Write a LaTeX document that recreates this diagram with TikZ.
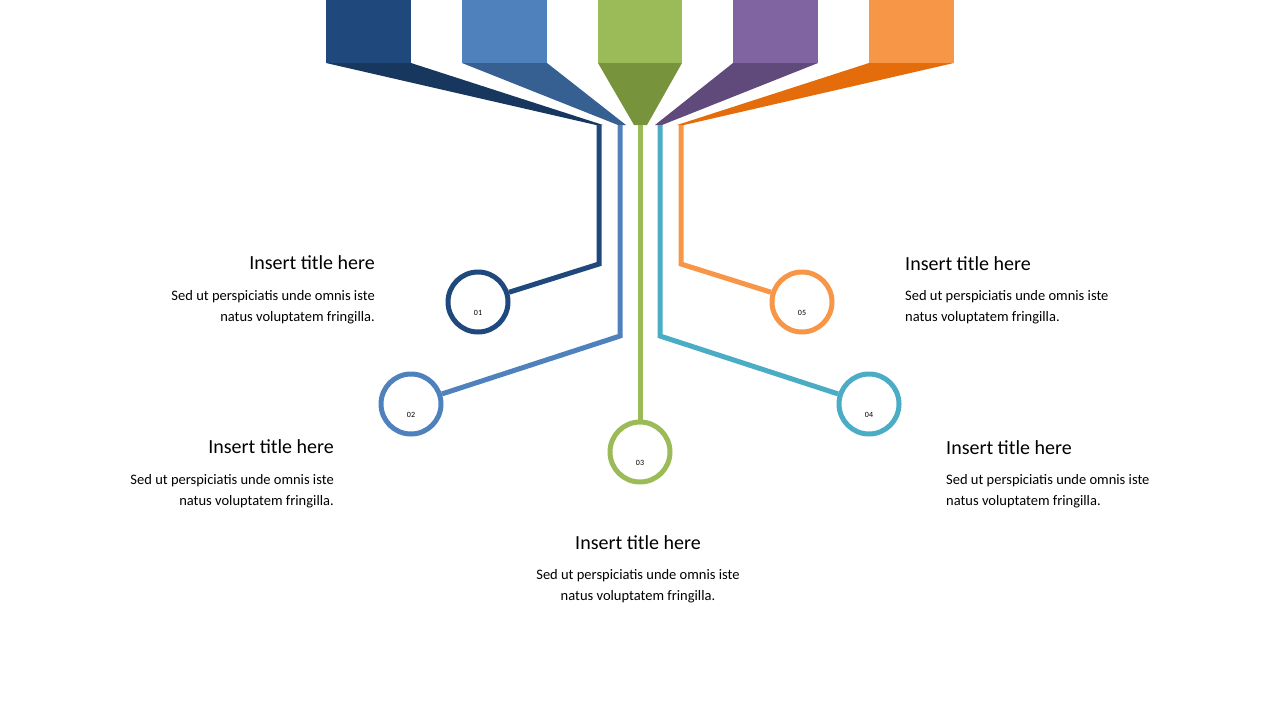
\documentclass[tikz,border=0pt]{standalone}
\usepackage{fontspec}
\setmainfont{Carlito}
\begin{document}
\definecolor{dblue}{HTML}{1F497D}\definecolor{dblueS}{HTML}{17375E}
\definecolor{mblue}{HTML}{4F81BD}\definecolor{mblueS}{HTML}{366092}
\definecolor{grn}{HTML}{9BBB59}\definecolor{grnS}{HTML}{77933C}
\definecolor{pur}{HTML}{8064A2}\definecolor{purS}{HTML}{604A7B}
\definecolor{org}{HTML}{F79646}\definecolor{orgS}{HTML}{E46C0A}
\definecolor{teal}{HTML}{4BACC6}
\begin{tikzpicture}[x=1pt,y=-1pt,
  ring/.style={circle,draw=#1,line width=5pt,minimum size=60pt,inner sep=0pt},
  conn/.style={draw=#1,line width=5pt},
  num/.style={font=\fontsize{8}{9}\selectfont},
  ttl/.style={font=\fontsize{20}{22}\selectfont,inner sep=0pt},
  body/.style={font=\fontsize{14.5}{21}\selectfont,inner sep=0pt,align=#1}]
\useasboundingbox (0,0) rectangle (1280,720);
% boxes
\fill[dblue] (326,0) rectangle (411,63); \fill[dblueS] (326,63)--(411,63)--(603,125)--(596,125)--cycle;
\fill[mblue] (462,0) rectangle (547,63); \fill[mblueS] (462,63)--(547,63)--(626,125)--(618,125)--cycle;
\fill[grn] (598,0) rectangle (682,63); \fill[grnS] (598,63)--(682,63)--(647,125)--(634,125)--cycle;
\fill[pur] (733,0) rectangle (818,63); \fill[purS] (733,63)--(818,63)--(662,125)--(655,125)--cycle;
\fill[org] (869,0) rectangle (954,63); \fill[orgS] (869,63)--(954,63)--(684,125)--(677,125)--cycle;
% circles
\node[ring=dblue] (c1) at (478,302) {};
\node[ring=mblue] (c2) at (411,404) {};
\node[ring=grn] (c3) at (640,452) {};
\node[ring=teal] (c4) at (869,404) {};
\node[ring=org] (c5) at (802,302) {};
\foreach \i in {1,...,5}{\node[num] at ([yshift=-11pt]c\i.center) {0\i};}
% connectors
\coordinate (s1) at (599,125); \coordinate (s2) at (620,125); \coordinate (s3) at (640,125);
\coordinate (s4) at (660,125); \coordinate (s5) at (681,125);
\draw[conn=dblue] (s1) -- (599,264) -- (c1);
\draw[conn=mblue] (s2) -- (620,336) -- (c2);
\draw[conn=grn] (s3) -- (c3);
\draw[conn=teal] (s4) -- (660,336) -- (c4);
\draw[conn=org] (s5) -- (681,264) -- (c5);
% texts
\node[ttl,anchor=east] (t1) at (375,263) {Insert title here};
\node[body=right,anchor=north east] (b1) at (375,290) {Sed ut perspiciatis unde omnis iste\\natus voluptatem fringilla.};
\node[ttl,anchor=east] (t2) at (334,447) {Insert title here};
\node[body=right,anchor=north east] (b2) at (334,474) {Sed ut perspiciatis unde omnis iste\\natus voluptatem fringilla.};
\node[ttl] (t3) at (638,543) {Insert title here};
\node[body=center,anchor=north] (b3) at (638,569) {Sed ut perspiciatis unde omnis iste\\natus voluptatem fringilla.};
\node[ttl,anchor=west] (t4) at (946,448) {Insert title here};
\node[body=left,anchor=north west] (b4) at (946,474) {Sed ut perspiciatis unde omnis iste\\natus voluptatem fringilla.};
\node[ttl,anchor=west] (t5) at (905,264) {Insert title here};
\node[body=left,anchor=north west] (b5) at (905,290) {Sed ut perspiciatis unde omnis iste\\natus voluptatem fringilla.};
\end{tikzpicture}
\end{document}
